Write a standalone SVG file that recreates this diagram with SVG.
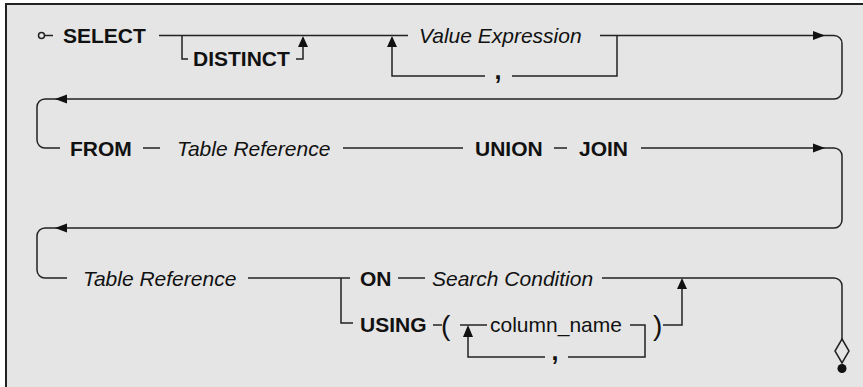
<svg xmlns="http://www.w3.org/2000/svg" width="863" height="387" viewBox="0 0 863 387">
  <style>
    .kw { font-family: "Liberation Sans", Arial, Helvetica, sans-serif; font-size: 21px; font-weight: bold; fill: #111; }
    .var { font-family: "Liberation Sans", Arial, Helvetica, sans-serif; font-size: 21px; font-style: italic; fill: #111; }
    .id { font-family: "Liberation Sans", Arial, Helvetica, sans-serif; font-size: 21px; fill: #111; }
    .paren { font-family: "Liberation Sans", Arial, Helvetica, sans-serif; font-size: 28px; fill: #111; }
    .sep { font-family: "Liberation Sans", Arial, Helvetica, sans-serif; font-size: 25px; font-weight: bold; fill: #111; text-anchor: middle; }
    .ln { fill: none; stroke: #222; stroke-width: 1.5; }
    .ah { fill: #111; stroke: none; }
  </style>

  <!-- panel: grey field with a dark edge on top and left only -->
  <rect x="5" y="3" width="858" height="384" fill="#e5e5e5"/>
  <path d="M6,387 V4 H863" fill="none" stroke="#222" stroke-width="2"/>

  <!-- railroad tracks -->
  <g id="connectors">
    <!-- start marker -->
    <circle class="ln" cx="41.5" cy="35.5" r="3"/>
    <path class="ln" d="M44.5,35.5 H53"/>

    <!-- row 1 -->
    <path class="ln" d="M159,35.5 H408"/>
    <path class="ln" d="M182,35.5 V59 H188"/>
    <path class="ln" d="M296,59 H303 V46"/>
    <polygon class="ah" points="303,36 298,47 308,47"/>
    <path class="ln" d="M392,46 V76 H485"/>
    <path class="ln" d="M512,76 H617 V35.5"/>
    <polygon class="ah" points="392,36 387,47 397,47"/>

    <!-- row 1 wrap to row 2 -->
    <path class="ln" d="M600,35.5 H834 A8,8 0 0 1 842,43.5 V91 A8,8 0 0 1 834,99 H45 A8,8 0 0 0 37,107 V140 A8,8 0 0 0 45,148 H60"/>
    <polygon class="ah" points="813,31 825,35.5 813,40"/>
    <polygon class="ah" points="67,94.5 55,99 67,103.5"/>

    <!-- row 2 -->
    <path class="ln" d="M143,148 H160"/>
    <path class="ln" d="M343,148 H463"/>
    <path class="ln" d="M554,148 H567"/>

    <!-- row 2 wrap to row 3 -->
    <path class="ln" d="M641,148 H834 A8,8 0 0 1 842,156 V220 A8,8 0 0 1 834,228 H45 A8,8 0 0 0 37,236 V270 A8,8 0 0 0 45,278 H67"/>
    <polygon class="ah" points="813,143.5 825,148 813,152.5"/>
    <polygon class="ah" points="67,223.5 55,228 67,232.5"/>

    <!-- row 3: ON / USING choice -->
    <path class="ln" d="M248,278 H350"/>
    <path class="ln" d="M341,278 V323 H353"/>
    <path class="ln" d="M398,278 H425"/>
    <path class="ln" d="M602,278 H834 A8,8 0 0 1 842,286 V339"/>

    <!-- USING column list -->
    <path class="ln" d="M433,325 H442"/>
    <path class="ln" d="M460,325 H487"/>
    <path class="ln" d="M468,336 V357 H545"/>
    <polygon class="ah" points="468,325 463,337 473,337"/>
    <path class="ln" d="M568,357 H645 V325 H630"/>
    <path class="ln" d="M663,325 H682 V288"/>
    <polygon class="ah" points="682,278 677,289 687,289"/>

    <!-- end marker -->
    <polygon points="842,339 849,351 842,363 835,351" fill="none" stroke="#222" stroke-width="1.5"/>
    <circle cx="842" cy="368.5" r="4.5" fill="#111"/>
  </g>

  <g id="select"><text class="kw" x="63" y="43">SELECT</text></g>
  <g id="distinct"><text class="kw" x="193" y="66">DISTINCT</text></g>
  <g id="value-expression"><text class="var" x="419" y="43">Value Expression</text></g>
  <g id="value-separator"><text class="sep" x="498" y="79">,</text></g>

  <g id="from"><text class="kw" x="70" y="155.5">FROM</text></g>
  <g id="table-reference-1"><text class="var" x="177" y="155.5">Table Reference</text></g>
  <g id="union"><text class="kw" x="475" y="155.5">UNION</text></g>
  <g id="join"><text class="kw" x="579" y="155.5">JOIN</text></g>

  <g id="table-reference-2"><text class="var" x="83" y="285.5">Table Reference</text></g>
  <g id="on"><text class="kw" x="360" y="285.5">ON</text></g>
  <g id="search-condition"><text class="var" x="432" y="285.5">Search Condition</text></g>

  <g id="using"><text class="kw" x="360" y="332">USING</text></g>
  <g id="open-paren"><text class="paren" x="441" y="335">(</text></g>
  <g id="column-name"><text class="id" x="490" y="332">column_name</text></g>
  <g id="column-separator"><text class="sep" x="555" y="359.5">,</text></g>
  <g id="close-paren"><text class="paren" x="653" y="335">)</text></g>
</svg>
